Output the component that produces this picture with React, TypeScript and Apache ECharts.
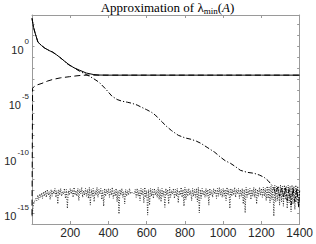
import React, { useEffect, useRef } from "react";
import * as echarts from "echarts";

// x ticks
const xTicks = [0, 200, 400, 600, 800, 1000, 1200, 1400];
// y exponents labelled (log10 scale)
const yLabelExps = [0, -5, -10, -15];

// Solid line (log10 values)
const solidX = [0, 3, 8, 15, 31, 50, 67, 90, 108, 130, 145, 170, 196, 220, 248, 284, 320, 351, 400, 600, 800, 1000, 1200, 1400];
const solidY = [2.5, 2.2, 1.7, 1.25, 0.36, 0.05, -0.18, -0.4, -0.54, -0.8, -1.0, -1.35, -1.7, -1.95, -2.16, -2.42, -2.55, -2.6, -2.61, -2.61, -2.61, -2.61, -2.61, -2.61];

// Dashed line
const dashedX = [0, 3, 10, 25, 52, 80, 108, 150, 196, 230, 263, 300, 400, 600, 800, 1000, 1200, 1400];
const dashedY = [-15.2, -3.8, -3.65, -3.5, -3.35, -3.15, -3.0, -2.85, -2.75, -2.68, -2.62, -2.61, -2.61, -2.61, -2.61, -2.61, -2.61, -2.61];

// Dash-dot line
const dashdotX = [0, 3, 8, 15, 31, 50, 67, 90, 108, 130, 145, 170, 180, 220, 248, 284, 320, 351, 385, 418, 445, 470, 500, 522, 550, 573, 600, 625, 645, 661, 680, 697, 730, 765, 800, 832, 860, 883, 920, 956, 987, 1010, 1038, 1065, 1090, 1125, 1162, 1190, 1214, 1235, 1255, 1265, 1275, 1285, 1295, 1305, 1315, 1325, 1335, 1345, 1355, 1365, 1375, 1385, 1395, 1400];
const dashdotY = [2.5, 2.2, 1.7, 1.25, 0.36, 0.05, -0.18, -0.4, -0.54, -0.8, -1.0, -1.35, -1.55, -1.95, -2.25, -2.55, -2.9, -3.25, -3.85, -4.5, -4.8, -4.95, -5.05, -5.14, -5.3, -5.5, -5.72, -5.95, -6.2, -6.49, -6.8, -7.12, -7.6, -8.02, -8.25, -8.38, -8.55, -8.74, -9.15, -9.55, -10.0, -10.3, -10.54, -10.85, -11.17, -11.35, -11.44, -11.6, -11.8, -12.1, -12.52, -12.8, -13.3, -12.7, -13.5, -12.8, -13.6, -12.7, -13.9, -12.8, -14.3, -12.7, -14.0, -12.8, -14.5, -13.0];

// Dotted noise line, one value every NOISE_STEP iterations (log10 values)
const NOISE_STEP = 5;
const noiseY = [
  -15.3, -14.6, -14.1, -13.9, -13.7, -13.9, -13.4, -13.8, -13.3, -13.6, -13.2, -13.7, -13.1, -13.5, -13.0, -13.6, -12.9, -13.4, -13.1, -13.8,
  -12.9, -13.5, -13.0, -13.3, -12.8, -13.6, -13.0, -14.2, -12.9, -13.4, -12.8, -13.5, -13.1, -13.3, -12.8, -13.7, -12.9, -14.6, -13.0, -13.4,
  -12.8, -13.3, -12.9, -13.6, -12.7, -13.4, -13.0, -13.5, -12.8, -13.9, -12.9, -13.3, -12.7, -13.6, -13.0, -13.4, -12.8, -13.5, -12.9, -13.7,
  -12.7, -14.3, -12.9, -13.5, -12.8, -14.0, -13.0, -13.4, -12.7, -13.6, -12.9, -13.3, -12.8, -13.8, -13.0, -14.4, -12.8, -13.5, -12.9, -13.3,
  -12.8, -13.6, -12.9, -13.4, -12.7, -13.7, -13.0, -13.5, -12.8, -14.0, -13.0, -15.1, -12.9, -13.4, -12.8, -13.6, -13.1, -14.2, -12.9, -13.5,
  -13.0, -13.4, -12.8, -13.3, -13.1, -13.2, -13.2, -13.3, -12.9, -13.6, -12.8, -13.5, -13.0, -13.9, -12.8, -13.4, -12.9, -14.1, -12.7, -13.6,
  -13.0, -15.2, -12.9, -14.3, -12.8, -13.5, -12.9, -13.7, -12.8, -13.4, -13.0, -13.6, -12.7, -13.8, -12.9, -14.0, -12.8, -13.5, -13.0, -14.5,
  -12.8, -13.4, -12.9, -14.2, -12.7, -13.6, -13.0, -13.3, -12.8, -13.7, -12.9, -13.5, -12.8, -14.1, -13.0, -13.4, -12.7, -13.6, -12.9, -14.4,
  -12.7, -13.8, -12.9, -13.5, -12.8, -13.4, -13.0, -13.9, -12.8, -13.5, -12.9, -13.6, -12.8, -14.0, -12.7, -15.0, -12.9, -13.7, -12.8, -13.4,
  -13.0, -13.6, -12.8, -13.5, -12.9, -14.3, -12.8, -13.4, -13.0, -13.6, -12.8, -13.3, -12.9, -13.7, -12.8, -13.5, -12.7, -13.4, -12.9, -13.6,
  -12.8, -13.5, -12.9, -13.9, -12.7, -13.4, -12.9, -14.6, -12.8, -13.5, -12.9, -13.4, -12.7, -13.6, -12.9, -13.3, -12.8, -13.7, -12.9, -13.5,
  -12.8, -14.2, -12.9, -15.0, -12.7, -13.6, -12.9, -13.4, -12.8, -13.8, -12.9, -13.5, -12.7, -13.6, -12.8, -14.2, -12.9, -13.5, -12.7, -13.4,
  -12.8, -13.6, -12.7, -13.5, -12.8, -13.9, -12.6, -13.7, -12.7, -14.1, -12.6, -13.8, -12.7, -15.3, -12.5, -14.0, -12.6, -13.9, -12.6, -14.3,
  -12.5, -14.0, -12.6, -14.4, -12.5, -13.8, -12.6, -14.6, -12.5, -14.1, -12.6, -14.9, -12.5, -14.2, -12.6, -14.7, -12.5, -14.0, -12.6, -14.3,
  -13.0,
];

const Y_MIN = -16;
const Y_MAX = 2.8;
const X_MAX = 1400;

const pairs = (xs: number[], ys: number[]) => xs.map((x, i) => [x, ys[i]]);

export default function App() {
  const ref = useRef<HTMLDivElement>(null);
  useEffect(() => {
    if (!ref.current) return;
    const chart = echarts.init(ref.current, undefined, { renderer: "svg" });
    const axisColor = "#9a9a9a";
    const labelColor = "#262626";
    const noiseData = noiseY.map((v, i) => [i * NOISE_STEP, v]);
    const yLabel = (v: number) =>
      yLabelExps.indexOf(Math.round(v)) >= 0 && Math.abs(v - Math.round(v)) < 1e-6
        ? `{b|10}{s|${Math.round(v)}}`
        : "";
    const common = { type: "line", showSymbol: false, symbol: "none", animation: false, z: 3 };
    const axisBase = {
      axisLine: { show: true, onZero: false, lineStyle: { color: axisColor, width: 1 } },
      splitLine: { show: false },
    };
    chart.setOption({
      animation: false,
      backgroundColor: "#ffffff",
      grid: { left: 32, right: 13, top: 15, bottom: 20 },
      graphic: [
        {
          type: "text",
          x: 167.5,
          y: 7,
          style: {
            text: "{t|Approximation of λ}{sub|min}{t|(}{it|A}{t|)}",
            align: "center",
            verticalAlign: "middle",
            rich: {
              t: { fontFamily: "Liberation Serif", fontSize: 13, fill: "#000", lineHeight: 16, verticalAlign: "middle" },
              it: { fontFamily: "Liberation Serif", fontStyle: "italic", fontSize: 13, fill: "#000", lineHeight: 16, verticalAlign: "middle" },
              sub: { fontFamily: "Liberation Serif", fontSize: 9, fill: "#000", lineHeight: 9, verticalAlign: "bottom" },
            },
          },
        },
      ],
      xAxis: [
        {
          type: "value",
          min: 0,
          max: X_MAX,
          interval: 200,
          position: "bottom",
          ...axisBase,
          axisTick: { show: true, inside: true, length: 3, lineStyle: { color: axisColor } },
          axisLabel: {
            color: labelColor,
            fontFamily: "Liberation Sans",
            fontSize: 12,
            margin: 3,
            formatter: (v: number) => (xTicks.indexOf(v) > 0 ? String(v) : ""),
          },
        },
        {
          type: "value",
          min: 0,
          max: X_MAX,
          interval: 200,
          position: "top",
          ...axisBase,
          axisTick: { show: true, inside: true, length: 3, lineStyle: { color: axisColor } },
          axisLabel: { show: false },
        },
      ],
      yAxis: [
        {
          type: "value",
          min: Y_MIN,
          max: Y_MAX,
          interval: 1,
          position: "left",
          ...axisBase,
          axisTick: { show: true, inside: true, length: 2.5, lineStyle: { color: axisColor } },
          axisLabel: {
            color: labelColor,
            margin: 3,
            formatter: yLabel,
            rich: {
              b: { fontFamily: "Liberation Sans", fontSize: 11, color: labelColor, lineHeight: 18, verticalAlign: "bottom" },
              s: { fontFamily: "Liberation Sans", fontSize: 8, color: labelColor, lineHeight: 8, verticalAlign: "top", padding: [0, 0, 0, 1] },
            },
          },
        },
        {
          type: "value",
          min: Y_MIN,
          max: Y_MAX,
          interval: 1,
          position: "right",
          ...axisBase,
          axisTick: { show: true, inside: true, length: 2.5, lineStyle: { color: axisColor } },
          axisLabel: { show: false },
        },
      ],
      series: [
        {
          ...common,
          name: "noise",
          data: noiseData,
          lineStyle: { color: "#000", width: 0.8, type: [1, 1.5] },
        },
        {
          ...common,
          name: "dashdot",
          data: pairs(dashdotX, dashdotY),
          lineStyle: { color: "#000", width: 1, type: [5, 2, 1.2, 2] },
        },
        {
          ...common,
          name: "dashed",
          data: pairs(dashedX, dashedY),
          lineStyle: { color: "#000", width: 1, type: [6, 3.5] },
        },
        {
          ...common,
          name: "solid",
          data: pairs(solidX, solidY),
          lineStyle: { color: "#000", width: 1, type: "solid" },
        },
      ],
    });
    return () => chart.dispose();
  }, []);
  return <div ref={ref} style={{ position: "absolute", left: 0, top: 0, width: 316, height: 244 }} />;
}
